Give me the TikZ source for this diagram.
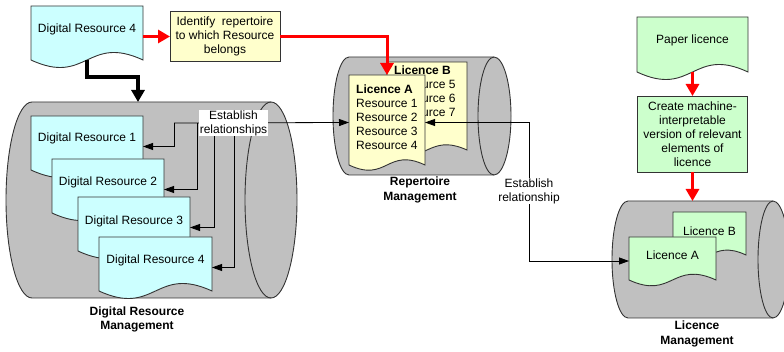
\documentclass[tikz,border=0pt]{standalone}
\usepackage{fontspec}
\setmainfont{Liberation Sans}
\usetikzlibrary{arrows.meta,calc}
\definecolor{cyanfill}{HTML}{CCFFFF}
\definecolor{yelfill}{HTML}{FFFFCC}
\definecolor{grnfill}{HTML}{CCFFCC}
\definecolor{cylgray}{HTML}{C0C0C0}
\definecolor{outl}{HTML}{333333}
\definecolor{redline}{HTML}{FF0000}
% #1 name, #2 fill, #3 x NW, #4 y NW, #5 width, #6 height, #7 wave end offset, #8 wave control
\newcommand\mkdoc[8]{%
  \node[docbox, minimum width=#5pt, minimum height=#6pt, anchor=north west] (#1) at (#3,#4) {};
  \draw[docline, fill=#2] (#1.north west) -- (#1.north east) -- ($(#1.south east)+(0,#7)$)
    .. controls ($(#1.south)+(0,{#7+#8})$) and ($(#1.south)+(0,{#7-#8})$) .. ($(#1.south west)+(0,#7)$) -- cycle;%
}
\begin{document}
\begin{tikzpicture}[x=1pt,y=1pt,
  every node/.style={font=\fontsize{12}{14}\selectfont, text=black},
  docbox/.style={rectangle, draw=none, inner sep=0pt, outer sep=0pt},
  docline/.style={draw=outl, line width=0.9pt, line join=miter},
  cyl/.style={draw=outl, fill=cylgray, line width=0.9pt},
  txt/.style={inner sep=0pt, align=center},
  ltxt/.style={inner sep=0pt, align=left, anchor=north west},
  procbox/.style={rectangle, draw=outl, line width=0.9pt, inner sep=1pt, align=center, outer sep=0pt},
  lab/.style={fill=white, inner xsep=1pt, inner ysep=0.5pt, align=center},
  mlab/.style={align=center, font=\fontsize{12}{14.5}\selectfont\bfseries, inner sep=0pt},
  conn/.style={draw=black, line width=0.8pt, -{Triangle[width=7pt,length=10pt]}},
  conn2/.style={draw=black, line width=0.8pt, {Triangle[width=7pt,length=10pt]}-{Triangle[width=7pt,length=10pt]}},
  redarr/.style={draw=redline, line width=3pt, -{Triangle[width=13pt,length=12pt]}},
  blkarr/.style={draw=black, line width=3.5pt, -{Triangle[width=13pt,length=12pt]}}
]
\fill[white] (0,0) rectangle (784,-352);
\useasboundingbox (0,0) rectangle (784,-352);

% cylinders
\filldraw[cyl] (32,-102) -- (271,-102) arc[start angle=90,end angle=-90,x radius=26,y radius=98]
  -- (32,-298) arc[start angle=270,end angle=90,x radius=26,y radius=98] -- cycle;
\draw[cyl,fill=none] (271,-102) arc[start angle=90,end angle=270,x radius=26,y radius=98];
\filldraw[cyl] (349,-57) -- (494,-57) arc[start angle=90,end angle=-90,x radius=17,y radius=59]
  -- (349,-175) arc[start angle=270,end angle=90,x radius=16,y radius=59] -- cycle;
\draw[cyl,fill=none] (494,-57) arc[start angle=90,end angle=270,x radius=16,y radius=59];
\filldraw[cyl] (628,-201) -- (773,-201) arc[start angle=90,end angle=-90,x radius=16,y radius=58.5]
  -- (628,-318) arc[start angle=270,end angle=90,x radius=16,y radius=58.5] -- cycle;
\draw[cyl,fill=none] (773,-201) arc[start angle=90,end angle=270,x radius=15,y radius=58.5];
\coordinate (drmtop) at (138,-102);
\coordinate (lictop) at (692.5,-201);

% top document
\mkdoc{dr4top}{cyanfill}{31}{-6}{112}{61}{7}{26}
\node[txt] (dr4topt) at ($(dr4top.center)+(0,7.5)$) {Digital Resource 4};

% identify box
\node[procbox, fill=yelfill, minimum width=110pt, minimum height=50pt] (ident) at (225,-36.5)
  {Identify\ \ repertoire\\to which Resource\\belongs};

% digital resources in the store
\mkdoc{dr1}{cyanfill}{31}{-116}{112}{61}{7}{26}
\node[txt] (dr1t) at ($(dr1.center)+(0,8)$) {Digital Resource 1};
\mkdoc{dr2}{cyanfill}{52}{-159}{112}{61}{7}{26}
\node[txt] (dr2t) at ($(dr2.center)+(0,7.5)$) {Digital Resource 2};
\mkdoc{dr3}{cyanfill}{78}{-197}{112}{61}{7}{26}
\node[txt] (dr3t) at ($(dr3.center)+(0,6.5)$) {Digital Resource 3};
\mkdoc{dr4}{cyanfill}{99}{-237}{113}{61}{7}{26}
\node[txt] (dr4t) at ($(dr4.center)+(0,7.5)$) {Digital Resource 4};

% repertoire licences
\mkdoc{licB}{yelfill}{387}{-62}{80}{93}{5}{18}
\node[ltxt] (licBt) at (394,-65.6) {\textbf{Licence B}\\Resource 5\\Resource 6\\Resource 7};
\mkdoc{licA}{yelfill}{349}{-75}{76}{95}{5}{18}
\node[ltxt] (licAt) at (356,-84.6) {\textbf{Licence A}\\Resource 1\\Resource 2\\Resource 3\\Resource 4};

% paper licence and processing
\mkdoc{paper}{grnfill}{637}{-17}{111}{62}{7}{26}
\node[txt] (papert) at ($(paper.center)+(0,8)$) {Paper licence};
\node[procbox, fill=grnfill, minimum width=110pt, minimum height=76pt] (create) at (692.5,-134)
  {Create machine-\\interpretable\\version of relevant\\elements of\\licence};

% licence store
\mkdoc{licB2}{grnfill}{673}{-212}{73}{48}{5}{17}
\node[txt] (licB2t) at ($(licB2.center)+(0,5)$) {Licence B};
\mkdoc{licA2}{grnfill}{629}{-237}{87}{48}{5}{20}
\node[txt] (licA2t) at ($(licA2.center)+(0,6)$) {Licence A};

% store labels
\node[mlab] (drmlab) at (137,-319.5) {Digital Resource\\Management};
\node[mlab] (replab) at (420,-190) {Repertoire\\Management};
\node[mlab] (liclab) at (697,-334) {Licence\\Management};

% connectors: relationships
\coordinate (j1) at (174,-123);
\coordinate (j2) at (197,-123);
\coordinate (j3) at (214,-123);
\coordinate (j4) at (234,-123);
\draw[conn] (j1) -- (licA.west);
\draw[conn] (j1) |- (dr1.east);
\draw[conn] (j2) |- (dr2.east);
\draw[conn] (j3) |- (dr3.east);
\draw[conn] (j4) |- (dr4.east);
\node[lab] (estab) at (233.5,-123) {Establish\\relationships};

\coordinate (k) at (529,-261);
\draw[conn2] (licA.east) -| (k) -- (licA2.west);
\node[lab] (estab2) at (529,-191) {Establish\\relationship};

% red flow
\draw[redarr] (dr4top.east) -- (ident.west);
\draw[redarr] (ident.east) -| (licA.north);
\draw[redarr] ([yshift=7pt]paper.south) -- (create.north);
\draw[redarr] (create.south) -- (lictop);

% black flow
\coordinate (b1) at (138,-77);
\draw[blkarr] ([yshift=7pt]dr4top.south) |- (b1) -- (drmtop);
\end{tikzpicture}
\end{document}
